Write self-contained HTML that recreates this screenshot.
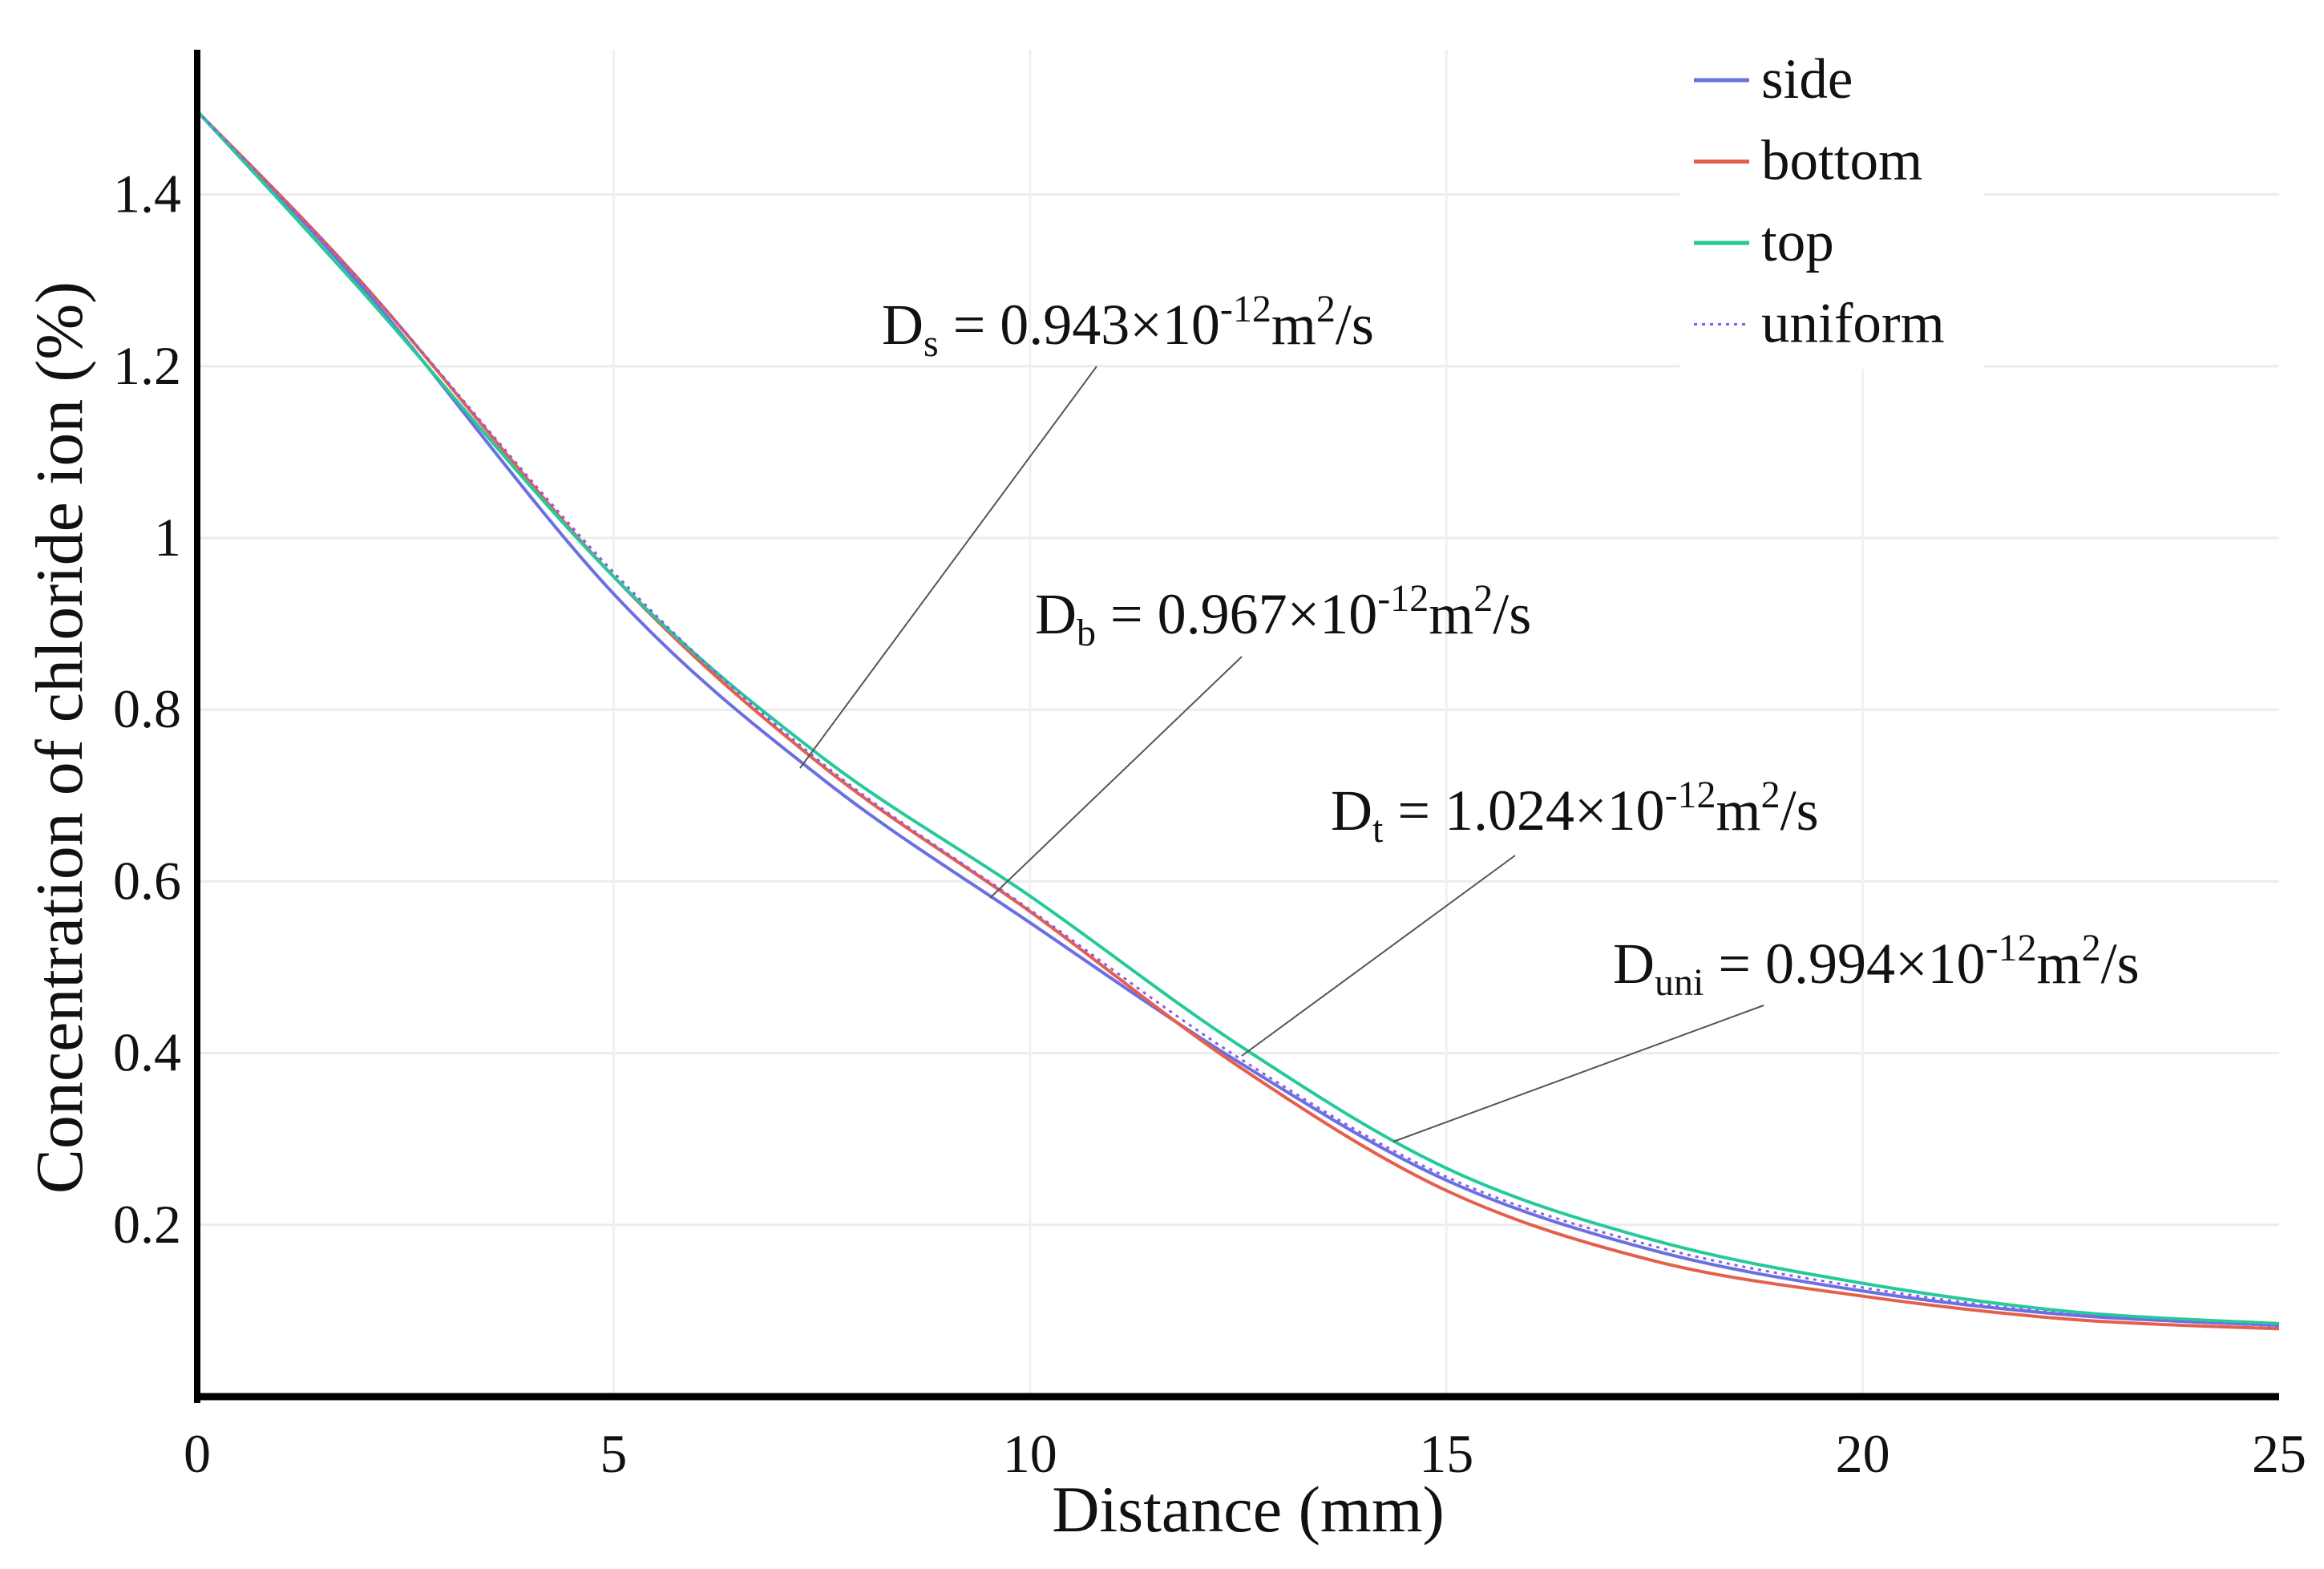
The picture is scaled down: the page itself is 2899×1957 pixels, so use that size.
<!DOCTYPE html>
<html><head><meta charset="utf-8"><style>
html,body{margin:0;padding:0;background:#fff;}
svg{display:block;font-family:"Liberation Serif",serif;}
</style></head><body>
<svg id="chart" width="2899" height="1957" viewBox="0 0 2899 1957" xmlns="http://www.w3.org/2000/svg">
<rect width="2899" height="1957" fill="#fff"/>
<g id="grid"></g>
<g id="series"></g>
<g id="axes"></g>
<g id="annot"></g>
<g id="legend"></g>
</svg>
<script>
const distances=[0,2,5,7.5,10,12.5,15,17.5,20,22.5,25];
const sideVals=[1.497,1.29,0.935,0.72,0.552,0.39,0.252,0.170,0.123,0.095,0.083];
const bottomVals=[1.497,1.295,0.955,0.735,0.565,0.385,0.240,0.158,0.117,0.090,0.079];
const topVals=[1.497,1.285,0.955,0.745,0.583,0.410,0.266,0.182,0.132,0.099,0.085];
const uniformVals=[1.497,1.295,0.960,0.738,0.567,0.395,0.256,0.175,0.127,0.096,0.082];
const xTicks=[0,5,10,15,20,25];
const yTicks=[0.2,0.4,0.6,0.8,1,1.2,1.4];
const yTickLabels=["0.2","0.4","0.6","0.8","1","1.2","1.4"];

const NS="http://www.w3.org/2000/svg";
const X0=246,X1=2843,Y0=1742,YU=1071;
function sx(v){return X0+(X1-X0)*v/25;}
function sy(v){return Y0-v*YU;}
function mk(tag,attrs,parent){const e=document.createElementNS(NS,tag);for(const k in attrs)e.setAttribute(k,attrs[k]);parent.appendChild(e);return e;}
const grid=document.getElementById('grid'),axes=document.getElementById('axes'),ser=document.getElementById('series'),ann=document.getElementById('annot'),leg=document.getElementById('legend');

yTicks.forEach((t,i)=>{
  const l=mk('line',{x1:X0,x2:X1,y1:sy(t),y2:sy(t),stroke:'#ececec','stroke-width':3},grid);
  
  
  const tx=mk('text',{x:226,y:sy(t)+22,'text-anchor':'end','font-size':68,fill:'#111'},axes);
  tx.textContent=yTickLabels[i];
  
  
});
xTicks.forEach(t=>{
  if(t>0&&t<25){const l=mk('line',{x1:sx(t),x2:sx(t),y1:62,y2:Y0,stroke:'#f0f0f0','stroke-width':3},grid);
  
  }
  const tx=mk('text',{x:sx(t),y:1836,'text-anchor':'middle','font-size':68,fill:'#111'},axes);
  tx.textContent=String(t);
  
  
});
const ya=mk('line',{x1:X0,x2:X0,y1:62,y2:Y0+8,stroke:'#000','stroke-width':8},axes);


const xa=mk('line',{x1:X0-4,x2:X1,y1:Y0,y2:Y0,stroke:'#000','stroke-width':9},axes);


const xt=mk('text',{x:1557,y:1910,'text-anchor':'middle','font-size':82,fill:'#111'},axes);
xt.textContent='Distance (mm)';


const yt=mk('text',{x:0,y:0,'text-anchor':'middle','font-size':84,fill:'#111',transform:'translate(102,920) rotate(-90)'},axes);
yt.textContent='Concentration of chloride ion (%)';



function pathFor(vals){
  const p=distances.map((d,i)=>[sx(d),sy(vals[i])]);
  let s='M'+p[0][0]+','+p[0][1];
  for(let i=0;i<p.length-1;i++){
    const a=p[Math.max(0,i-1)],b=p[i],c=p[i+1],d=p[Math.min(p.length-1,i+2)];
    const c1=[b[0]+(c[0]-a[0])/6,b[1]+(c[1]-a[1])/6],c2=[c[0]-(d[0]-b[0])/6,c[1]-(d[1]-b[1])/6];
    s+=' C'+c1+' '+c2+' '+c;
  }
  return s;
}
const seriesDefs=[
 ['side-line',sideVals,'#6b70e0',4,null],
 ['bottom-line',bottomVals,'#e4604c',4,null],
 ['top-line',topVals,'#25c99a',4,null],
 ['uniform-line',uniformVals,'#8a5cf0',3,'4 6']];
seriesDefs.forEach(s=>{
  const a={d:pathFor(s[1]),fill:'none',stroke:s[2],'stroke-width':s[3]};
  if(s[4])a['stroke-dasharray']=s[4];
  const p=mk('path',a,ser);
  
  
});

const notes=[
 ['ds-annotation',1100,429,'D','s','0.943',[1368,457,998,958]],
 ['db-annotation',1291,790,'D','b','0.967',[1549,819,1235,1120]],
 ['dt-annotation',1660,1035,'D','t','1.024',[1890,1067,1549,1317]],
 ['duni-annotation',2012,1226,'D','uni','0.994',[2200,1254,1738,1424]]];
notes.forEach(n=>{
  const g=mk('g',{},ann);
  
  
  mk('line',{x1:n[6][0],y1:n[6][1],x2:n[6][2],y2:n[6][3],stroke:'#555','stroke-width':2},g);
  const t=mk('text',{x:n[1],y:n[2],'font-size':72,fill:'#111'},g);
  t.innerHTML='D<tspan font-size="48" dy="15">'+n[4]+'</tspan><tspan dy="-15"> = '+n[5]+'×10</tspan><tspan font-size="48" dy="-28">-12</tspan><tspan dy="28">m</tspan><tspan font-size="48" dy="-28">2</tspan><tspan dy="28">/s</tspan>';
});

mk('rect',{x:2095,y:40,width:380,height:420,fill:'#fff'},leg);
const legItems=[['side','#6b70e0',null],['bottom','#e4604c',null],['top','#25c99a',null],['uniform','#8a5cf0','4 6']];
legItems.forEach((it,i)=>{
  const y=100+i*101.5;
  const g=mk('g',{},leg);
  
  
  const a={x1:2113,x2:2182,y1:y,y2:y,stroke:it[1],'stroke-width':it[2]?3:5};
  if(it[2])a['stroke-dasharray']=it[2];
  mk('line',a,g);
  const t=mk('text',{x:2197,y:y+22,'font-size':71,fill:'#111'},g);
  t.textContent=it[0];
});
</script>
</body></html>
